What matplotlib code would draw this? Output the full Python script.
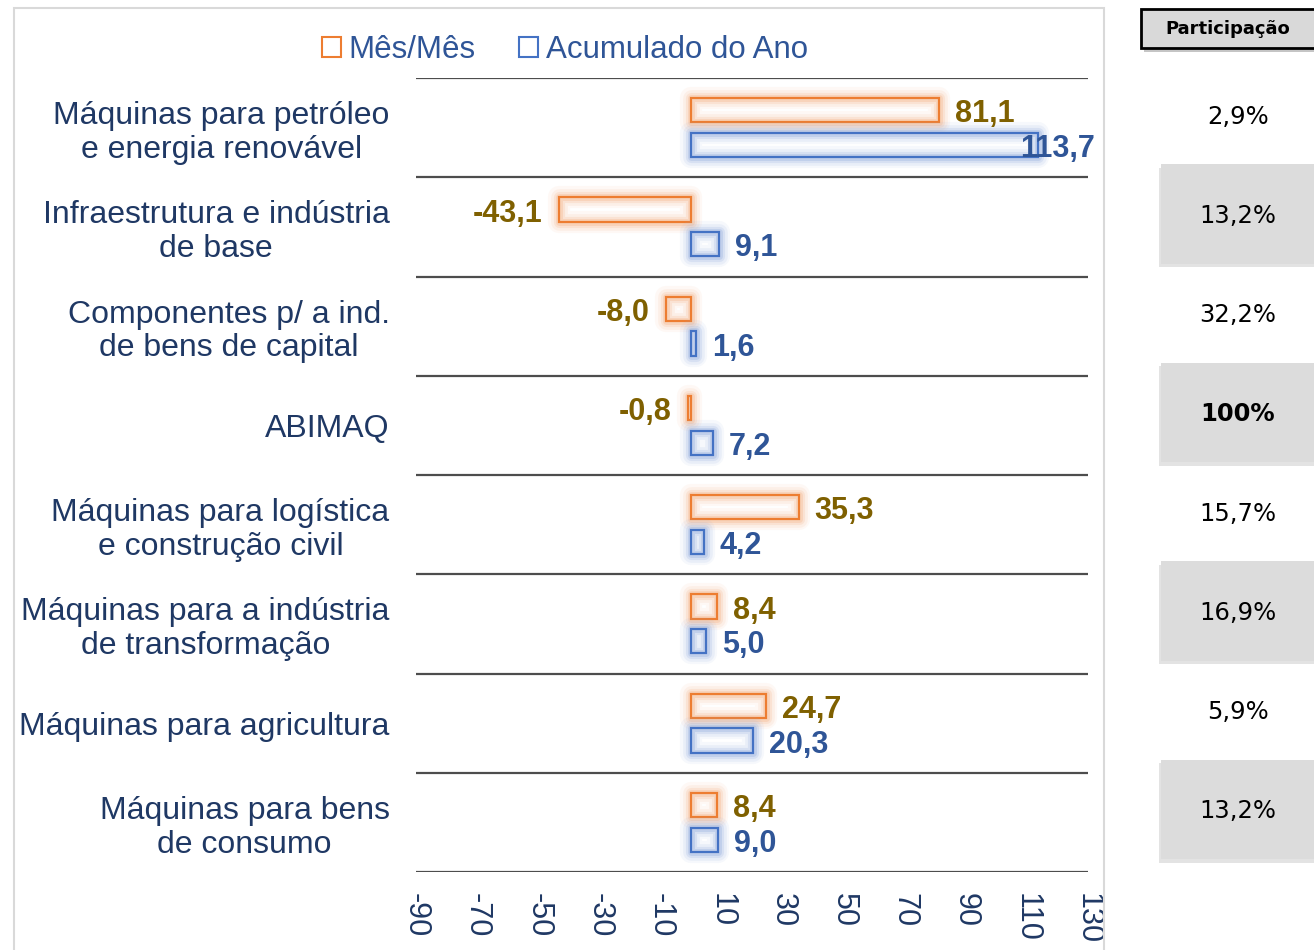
import matplotlib
matplotlib.use("Agg")
import matplotlib.pyplot as plt
import matplotlib.patheffects as pe
from matplotlib.patches import Rectangle, Patch

categories = [
    "Máquinas para petróleo\ne energia renovável",
    "Infraestrutura e indústria\nde base",
    "Componentes p/ a ind.\nde bens de capital",
    "ABIMAQ",
    "Máquinas para logística\ne construção civil",
    "Máquinas para a indústria\nde transformação",
    "Máquinas para agricultura",
    "Máquinas para bens\nde consumo",
]
mes_mes = [81.1, -43.1, -8.0, -0.8, 35.3, 8.4, 24.7, 8.4]
acumulado = [113.7, 9.1, 1.6, 7.2, 4.2, 5.0, 20.3, 9.0]
participacao = ["2,9%", "13,2%", "32,2%", "100%", "15,7%", "16,9%", "5,9%", "13,2%"]
bold_rows = ["100%"]
series_names = ["Mês/Mês", "Acumulado do Ano"]
xticks = list(range(-90, 131, 20))

ORANGE = "#ED7D31"
ORANGE_GLOW = "#F4B183"
BLUE = "#4472C4"
BLUE_GLOW = "#8FAADC"
ORANGE_TXT = "#7F6000"
BLUE_TXT = "#2F5597"
NAVY = "#1F3864"

W, H = 1314, 950
fig = plt.figure(figsize=(W / 100, H / 100), dpi=100)
fig.patch.set_facecolor("white")

def fx(px):
    return px / W

def fy(py):
    return 1 - py / H

# chart border
fig.patches.append(Rectangle((fx(14), -0.02), fx(1104) - fx(14), fy(8) + 0.02,
                             transform=fig.transFigure, fill=False,
                             edgecolor="#D9D9D9", linewidth=1.5))

ax = fig.add_axes([fx(416), fy(872), fx(1088) - fx(416), fy(78) - fy(872)])
ax.set_xlim(-90, 130)
ax.set_ylim(len(categories), 0)
for s in ax.spines.values():
    s.set_visible(False)

# horizontal separators
for i in range(len(categories) + 1):
    ax.axhline(i, color="#4D4D4D", linewidth=1.6, zorder=1)

n = len(categories)
centers = [i + 0.5 for i in range(n)]
off = 0.175
bh = 0.245

def glow(c):
    return [pe.Stroke(linewidth=16, foreground=c, alpha=0.08, joinstyle="round"),
            pe.Stroke(linewidth=12, foreground=c, alpha=0.12, joinstyle="round"),
            pe.Stroke(linewidth=8, foreground=c, alpha=0.2, joinstyle="round"),
            pe.Stroke(linewidth=5, foreground=c, alpha=0.3, joinstyle="round"),
            pe.Normal()]

b1 = ax.barh([c - off for c in centers], mes_mes, height=bh, facecolor="none",
             edgecolor=ORANGE, linewidth=1.6, zorder=3)
b2 = ax.barh([c + off for c in centers], acumulado, height=bh, facecolor="none",
             edgecolor=BLUE, linewidth=1.6, zorder=3)
for r in b1:
    r.set_path_effects(glow(ORANGE_GLOW))
for r in b2:
    r.set_path_effects(glow(BLUE_GLOW))

def fmt(v):
    return f"{v:.1f}".replace(".", ",")

lab_font = dict(fontsize=22, fontweight="bold", family="Liberation Sans", va="center")
xmax = ax.get_xlim()[1]
dy = -3
for vals, yoff, col in [(mes_mes, -off, ORANGE_TXT), (acumulado, off, BLUE_TXT)]:
    for c, v in zip(centers, vals):
        y = c + yoff
        if v >= 0:
            if v > 0.8 * xmax:
                ax.annotate(fmt(v), xy=(1.0, y), xycoords=("axes fraction", "data"),
                            xytext=(5, dy), textcoords="offset points", ha="right",
                            color=col, zorder=5, **lab_font)
            else:
                ax.annotate(fmt(v), xy=(v, y), xytext=(11.5, dy), textcoords="offset points",
                            ha="left", color=col, zorder=5, **lab_font)
        else:
            ax.annotate(fmt(v), xy=(v, y), xytext=(-12, dy), textcoords="offset points",
                        ha="right", color=col, zorder=5, **lab_font)

ax.set_xticks(xticks)
ax.set_xticklabels([str(t) for t in xticks], rotation=-90, fontsize=22,
                   family="Liberation Sans", color=NAVY)
ax.tick_params(axis="x", length=0, pad=15)
ax.set_yticks(centers)
ax.set_yticklabels(categories, fontsize=23, family="Liberation Sans", color=NAVY,
                   multialignment="center", linespacing=1.16)
ax.tick_params(axis="y", length=0, pad=19)

# legend
handles = [Patch(facecolor="white", edgecolor=ORANGE, linewidth=1.5),
           Patch(facecolor="white", edgecolor=BLUE, linewidth=1.5)]
leg = fig.legend(handles, series_names, loc="center", ncol=2,
                 bbox_to_anchor=(fx(565), fy(50)), frameon=False,
                 handlelength=0.6, handleheight=0.6, handletextpad=0.25,
                 columnspacing=1.4, prop={"family": "Liberation Sans", "size": 22.5})
for t in leg.get_texts():
    t.set_color(BLUE_TXT)

# Participação table
tab = fig.add_axes([fx(1140), fy(872), 1 - fx(1140), fy(78) - fy(872)])
tab.set_xlim(1140, 1314)
tab.set_ylim(n, 0)
tab.axis("off")
row_shift = -0.13
for i, p in enumerate(participacao):
    if i % 2 == 1:
        cell = Rectangle((1161, i + row_shift), 160, 1.0, facecolor="#DCDCDC",
                         edgecolor="none", zorder=1, clip_on=False)
        cell.set_path_effects([pe.SimplePatchShadow(offset=(-1.5, -2.5), shadow_rgbFace="#C8C8C8",
                                                    alpha=0.5), pe.Normal()])
        tab.add_patch(cell)
    tab.text(1238, i + 0.5 + row_shift + 0.02, p, ha="center", va="center", fontsize=17.5,
             family="DejaVu Sans", color="black",
             fontweight="bold" if p in bold_rows else "normal", zorder=3)

hdr = Rectangle((fx(1141), fy(48)), 1 - fx(1141) + 0.01, fy(9) - fy(48),
                transform=fig.transFigure, facecolor="#D9D9D9", edgecolor="black",
                linewidth=2, clip_on=False)
hdr.set_path_effects([pe.SimplePatchShadow(offset=(2, -3), alpha=0.3), pe.Normal()])
fig.patches.append(hdr)
fig.text(fx(1228), fy(29), "Participação", ha="center", va="center", fontsize=13,
         fontweight="bold", family="DejaVu Sans", color="black")

fig.savefig("out.png", dpi=100, facecolor="white")
